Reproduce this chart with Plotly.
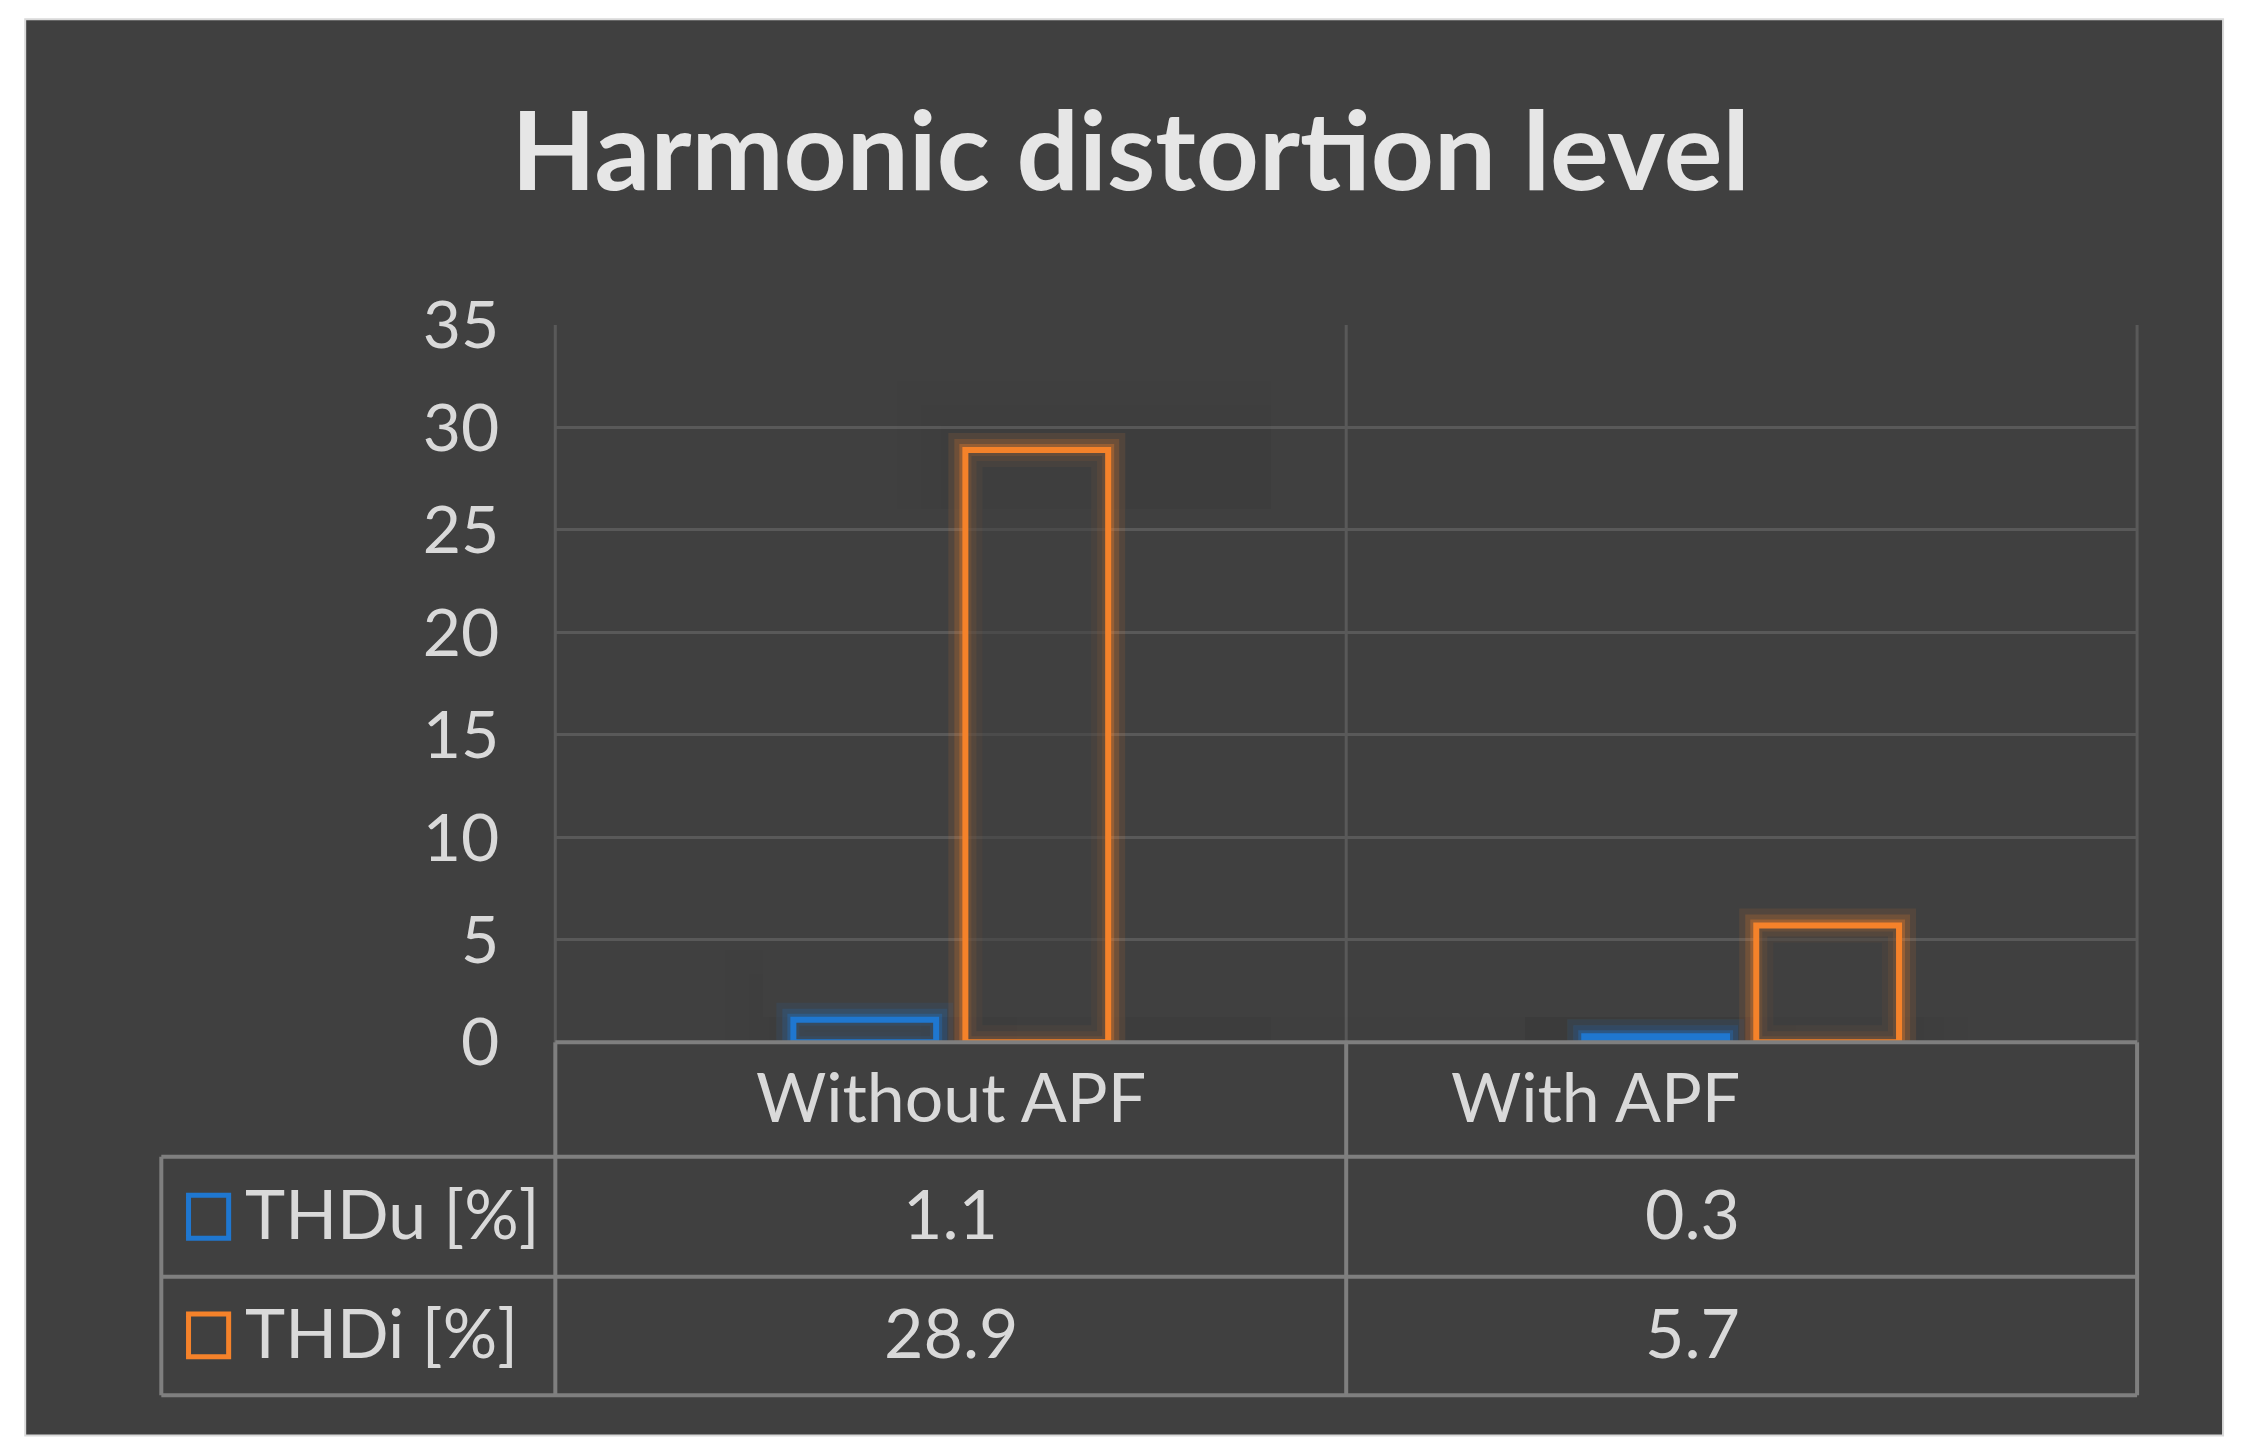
import plotly.graph_objects as go

categories = ["Without APF", "With APF"]
series_names = ["THDu [%]", "THDi [%]"]
thdu = [1.1, 0.3]
thdi = [28.9, 5.7]
colors = ["#1f77d0", "#f5822a"]
y_ticks = [0, 5, 10, 15, 20, 25, 30, 35]

W, H = 1568.0, 1018.0
def px(x): return ((x - 6) / 0.9993) / W
def py(y): return 1 - ((y - 33.6) / 0.9465) / H
TXT = 27  # vertical text correction

fig = go.Figure()
values = [thdu, thdi]
for w, op in [(34, 0.10), (22, 0.18), (12, 0.3)]:
    for name, vals, c in zip(series_names, values, colors):
        fig.add_bar(x=categories, y=vals, showlegend=False,
                    marker=dict(color="rgba(0,0,0,0)", line=dict(color=c, width=w)),
                    opacity=op, hoverinfo="skip", offsetgroup=name)
for name, vals, c in zip(series_names, values, colors):
    fig.add_bar(x=categories, y=vals, name=name, showlegend=False,
                marker=dict(color="rgba(64,64,64,0.55)", line=dict(color=c, width=6)),
                offsetgroup=name)

line_col = "#7f7f7f"
shapes = []
shapes.append(dict(type="rect", xref="paper", yref="paper", x0=px(18), x1=px(1552), y0=py(1003), y1=py(12),
                   fillcolor="#404040", line=dict(color="#d9d9d9", width=2), layer="below"))
for x in [388, 940, 1492]:
    shapes.append(dict(type="line", xref="paper", yref="paper", x0=px(x), x1=px(x), y0=py(728), y1=py(226),
                       line=dict(color="#595959", width=3), layer="below"))
for y, x0 in [(728, 388), (808, 113), (892, 113), (975, 113)]:
    shapes.append(dict(type="line", xref="paper", yref="paper", x0=px(x0), x1=px(1492), y0=py(y), y1=py(y),
                       line=dict(color=line_col, width=4)))
for x, y0 in [(113, 808), (388, 728), (940, 728), (1492, 728)]:
    shapes.append(dict(type="line", xref="paper", yref="paper", x0=px(x), x1=px(x), y0=py(y0), y1=py(975),
                       line=dict(color=line_col, width=4)))
for (yc, c) in [(850, colors[0]), (933, colors[1])]:
    shapes.append(dict(type="rect", xref="paper", yref="paper", x0=px(132), x1=px(160), y0=py(yc + 15), y1=py(yc - 15),
                       line=dict(color=c, width=5), fillcolor="rgba(0,0,0,0)"))

ann = []
font = dict(family="Lato, Open Sans, sans-serif", color="#d9d9d9", size=68)
for cat, xc in zip(categories, [664, 1216]):
    ann.append(dict(x=px(xc), y=py(768 + TXT), xref="paper", yref="paper", text=cat, showarrow=False, font=font))
for vals, yc in zip(values, [850, 933]):
    for v, xc in zip(vals, [664, 1216]):
        ann.append(dict(x=px(xc), y=py(yc + TXT), xref="paper", yref="paper", text=f"{v}", showarrow=False, font=font))
for name, yc in zip(series_names, [850, 933]):
    ann.append(dict(x=px(170), y=py(yc + TXT), xref="paper", yref="paper", text=name, showarrow=False,
                    xanchor="left", font=font))

fig.update_layout(
    width=2245, height=1456, margin=dict(l=0, r=0, t=0, b=0),
    paper_bgcolor="#ffffff", plot_bgcolor="rgba(0,0,0,0)",
    barmode="group", bargap=0.565, bargroupgap=0.17,
    title=dict(text="<b>Harmonic distortion level</b>", x=0.5, xanchor="center", y=1 - 100 / H, yanchor="middle",
               font=dict(family="Lato, Open Sans, sans-serif", size=110, color="#e6e6e6")),
    xaxis=dict(domain=[px(388), px(1492)], showticklabels=False, showgrid=False, zeroline=False),
    yaxis=dict(domain=[py(728), py(226)], range=[0, 35], tickvals=y_ticks, gridcolor="#595959", gridwidth=3,
               zeroline=False, tickfont=dict(family="Lato, Open Sans, sans-serif", size=66, color="#d9d9d9"),
               ticklabelstandoff=55),
    shapes=shapes, annotations=ann,
)
fig.write_html("out.html")
